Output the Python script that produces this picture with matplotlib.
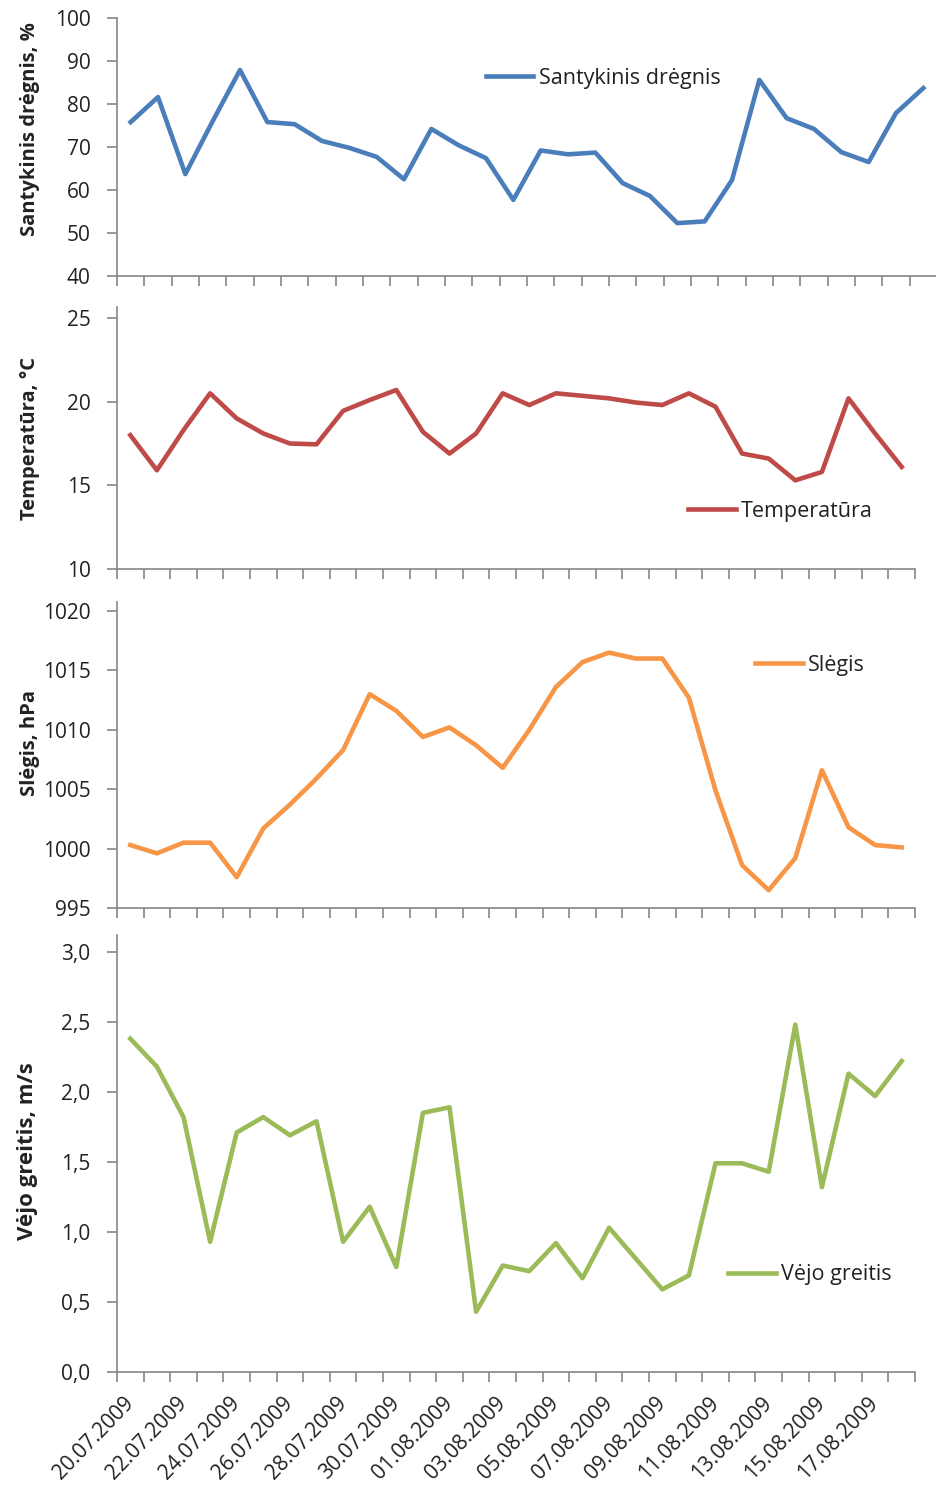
import matplotlib
matplotlib.use("Agg")
import matplotlib.pyplot as plt
from matplotlib.ticker import FixedLocator, FixedFormatter

plt.rcParams['font.family'] = ['Open Sans', 'DejaVu Sans']

dates = ["20.07.2009", "21.07.2009", "22.07.2009", "23.07.2009", "24.07.2009",
         "25.07.2009", "26.07.2009", "27.07.2009", "28.07.2009", "29.07.2009",
         "30.07.2009", "31.07.2009", "01.08.2009", "02.08.2009", "03.08.2009",
         "04.08.2009", "05.08.2009", "06.08.2009", "07.08.2009", "08.08.2009",
         "09.08.2009", "10.08.2009", "11.08.2009", "12.08.2009", "13.08.2009",
         "14.08.2009", "15.08.2009", "16.08.2009", "17.08.2009", "18.08.2009"]

humidity = [75.8, 81.6, 63.7, 76.0, 87.9, 75.8, 75.3, 71.4, 69.8, 67.7,
            62.5, 74.2, 70.4, 67.4, 57.7, 69.2, 68.3, 68.7, 61.6, 58.6,
            52.3, 52.7, 62.3, 85.6, 76.7, 74.2, 68.8, 66.5, 77.9, 83.7]

temperature = [18.0, 15.9, 18.3, 20.5, 19.0, 18.1, 17.5, 17.45, 19.45, 20.1,
               20.7, 18.2, 16.9, 18.1, 20.5, 19.8, 20.5, 20.35, 20.2, 19.95,
               19.8, 20.5, 19.7, 16.9, 16.6, 15.3, 15.8, 20.2, 18.1, 16.1]

pressure = [1000.3, 999.6, 1000.5, 1000.5, 997.6, 1001.7, 1003.7, 1005.9, 1008.3, 1013.0,
            1011.6, 1009.4, 1010.2, 1008.7, 1006.8, 1010.0, 1013.6, 1015.7, 1016.5, 1016.0,
            1016.0, 1012.7, 1004.9, 998.6, 996.5, 999.2, 1006.6, 1001.8, 1000.3, 1000.1]

wind = [2.38, 2.18, 1.82, 0.93, 1.71, 1.82, 1.69, 1.79, 0.93, 1.18,
        0.75, 1.85, 1.89, 0.43, 0.76, 0.72, 0.92, 0.67, 1.03, 0.81,
        0.59, 0.69, 1.49, 1.49, 1.43, 2.48, 1.32, 2.13, 1.97, 2.22]

W, H = 937, 1499
fig = plt.figure(figsize=(W / 100, H / 100), dpi=100)

def add_ax(x0, x1, ytop, ybot):
    return fig.add_axes([x0 / W, 1 - ybot / H, (x1 - x0) / W, (ybot - ytop) / H])

gray = '#868686'
txt = '#222222'
n = len(dates)
x = list(range(n))

panels = [
    dict(box=(117, 937, 18, 276), data=humidity, color='#4A7EBB', label='Santykinis drėgnis',
         ylabel='Santykinis drėgnis, %', ylim=(40, 100), yticks=[40, 50, 60, 70, 80, 90, 100],
         yticklabels=['40', '50', '60', '70', '80', '90', '100'],
         leg=(0.45, 0.767), ylc=(-0.094, 0.57), ylfs=14.5),
    dict(box=(117, 915, 307, 569), data=temperature, color='#BE4B48', label='Temperatūra',
         ylabel='Temperatūra, °C', ylim=(10, 25.66), yticks=[10, 15, 20, 25],
         yticklabels=['10', '15', '20', '25'],
         leg=(0.716, 0.22), ylc=(-0.097, 0.50), ylfs=14.5),
    dict(box=(117, 915, 602, 908), data=pressure, color='#F79646', label='Slėgis',
         ylabel='Slėgis, hPa', ylim=(995, 1020.76), yticks=[995, 1000, 1005, 1010, 1015, 1020],
         yticklabels=['995', '1000', '1005', '1010', '1015', '1020'],
         leg=(0.80, 0.794), ylc=(-0.097, 0.54), ylfs=14.5),
    dict(box=(117, 915, 935, 1372), data=wind, color='#9BBB59', label='Vėjo greitis',
         ylabel='Vėjo greitis, m/s', ylim=(0, 3.12), yticks=[0, 0.5, 1.0, 1.5, 2.0, 2.5, 3.0],
         yticklabels=['0,0', '0,5', '1,0', '1,5', '2,0', '2,5', '3,0'],
         leg=(0.766, 0.222), ylc=(-0.099, 0.506), ylfs=16),
]

for i, p in enumerate(panels):
    ax = add_ax(*p['box'])
    ax.plot(x, p['data'], color=p['color'], lw=3.3, label=p['label'], solid_joinstyle='round')
    ax.set_xlim(-0.5, n - 0.5)
    ax.set_ylim(*p['ylim'])
    for s in ['top', 'right']:
        ax.spines[s].set_visible(False)
    for s in ['left', 'bottom']:
        ax.spines[s].set_color(gray)
        ax.spines[s].set_linewidth(1.2)
    ax.yaxis.set_major_locator(FixedLocator(p['yticks']))
    ax.yaxis.set_major_formatter(FixedFormatter(p['yticklabels']))
    ax.tick_params(axis='y', direction='out', length=7, width=1.2, color=gray,
                   labelsize=15, labelcolor=txt, pad=12)
    ax.xaxis.set_major_locator(FixedLocator([k - 0.5 for k in range(n + 1)]))
    ax.xaxis.set_major_formatter(FixedFormatter([''] * (n + 1)))
    ax.tick_params(axis='x', which='major', direction='out', length=7, width=1.2, color=gray)
    if i == 3:
        ax.xaxis.set_minor_locator(FixedLocator(x[::2]))
        ax.xaxis.set_minor_formatter(FixedFormatter(dates[::2]))
        ax.tick_params(axis='x', which='minor', length=0, labelsize=15,
                       labelcolor=txt, pad=20)
        for t in ax.xaxis.get_minorticklabels():
            t.set_rotation(46)
            t.set_ha('right')
            t.set_va('center')
            t.set_rotation_mode('anchor')
    ax.set_ylabel(p['ylabel'], fontsize=p['ylfs'], fontweight='bold', color=txt)
    ax.yaxis.set_label_coords(*p['ylc'])
    leg = ax.legend(loc='center left', bbox_to_anchor=p['leg'], frameon=False,
                    fontsize=15.5, handlelength=2.2, handletextpad=0.25, borderpad=0,
                    borderaxespad=0)
    for t in leg.get_texts():
        t.set_color(txt)
    ax.set_facecolor('white')

fig.savefig('out.png', dpi=100, facecolor='white')
